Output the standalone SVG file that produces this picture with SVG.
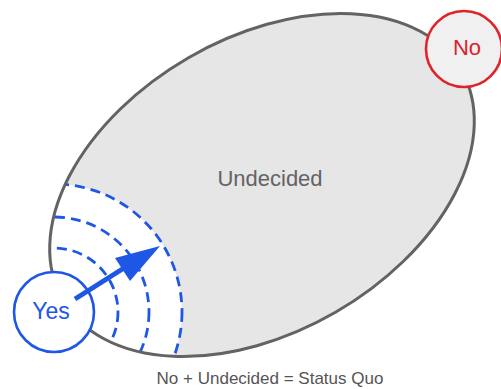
<svg xmlns="http://www.w3.org/2000/svg" width="501" height="389" viewBox="0 0 501 389">
  <style>
    .lbl { font-family: "Liberation Sans", Arial, sans-serif; text-anchor: middle; }
    .ripple { fill: none; stroke: #1e56e6; stroke-width: 2.8; stroke-dasharray: 10 6; }
  </style>
  <defs>
    <clipPath id="ellClip">
      <ellipse cx="262" cy="185" rx="230" ry="147" transform="rotate(-30 262 185)"/>
    </clipPath>
  </defs>
  <rect width="501" height="389" fill="#ffffff"/>
  <g id="undecided">
    <ellipse cx="262" cy="185" rx="230" ry="147" transform="rotate(-30 262 185)" fill="#e6e6e6"/>
    <g clip-path="url(#ellClip)">
      <circle cx="54" cy="312" r="128" fill="#ffffff"/>
    </g>
    <g id="ripples" clip-path="url(#ellClip)">
      <circle class="ripple" cx="54" cy="312" r="64"/>
      <circle class="ripple" cx="54" cy="312" r="95"/>
      <circle class="ripple" cx="54" cy="312" r="128"/>
    </g>
    <ellipse cx="262" cy="185" rx="230" ry="147" transform="rotate(-30 262 185)" fill="none" stroke="#636363" stroke-width="3"/>
    <text class="lbl" x="270" y="186" font-size="22" fill="#636363">Undecided</text>
  </g>
  <g id="no">
    <circle cx="464" cy="49" r="38" fill="#f0f0f0" stroke="#e0232a" stroke-width="2.6"/>
    <text class="lbl" x="467" y="55" font-size="22" fill="#d9252c">No</text>
  </g>
  <g id="yes">
    <circle cx="54" cy="312" r="40" fill="#ffffff" stroke="#1e56e6" stroke-width="2.6"/>
    <text class="lbl" x="51" y="319" font-size="23" fill="#1e56e6">Yes</text>
  </g>
  <g id="connectors">
    <line x1="75" y1="299" x2="124" y2="268" stroke="#1e56e6" stroke-width="5"/>
    <polygon points="160,246 115,258 130,281" fill="#1e56e6"/>
  </g>
  <text class="lbl" x="270" y="384" font-size="17" fill="#555555">No + Undecided = Status Quo</text>
</svg>
